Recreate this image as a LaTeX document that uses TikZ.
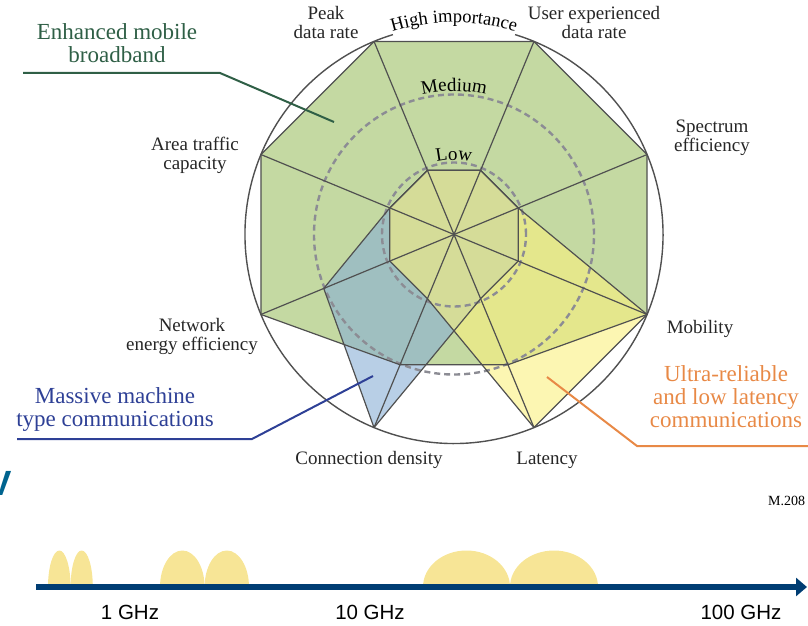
\documentclass[tikz,border=0pt]{standalone}
\usepackage{fontspec}
\setmainfont{Liberation Serif}
\setsansfont{Liberation Sans}
\usetikzlibrary{arrows.meta,calc,decorations.text}
\definecolor{EmbbGreen}{HTML}{9CC064}
\definecolor{MmtcBlue}{HTML}{88AFD5}
\definecolor{UrllcYellow}{HTML}{FAF07E}
\definecolor{EmbbText}{HTML}{2F5F46}
\definecolor{MmtcText}{HTML}{2E4096}
\definecolor{UrllcText}{HTML}{E88946}
\definecolor{AxisBlue}{HTML}{003D73}
\definecolor{BandYellow}{HTML}{F7E596}
\definecolor{RingGray}{HTML}{8C8C94}
\definecolor{LineGray}{HTML}{505050}

\begin{document}
\begin{tikzpicture}[x=1pt, y=1pt,
    spoke/.style={draw=LineGray, line width=1.2pt, line join=round},
    ring/.style={draw=LineGray, line width=1.4pt},
    lvlring/.style={draw=RingGray, line width=2.4pt, dash pattern=on 6pt off 4pt},
    axislabel/.style={font=\fontsize{19}{19}\selectfont, align=center, text=black!85, inner sep=0pt},
    callout/.style={font=\fontsize{23}{23}\selectfont, align=center, inner sep=0pt},
    freq/.style={font=\sffamily\fontsize{20.5}{20.5}\selectfont, inner sep=0pt},
    hump/.style={fill=BandYellow}]
    \useasboundingbox (0,0) rectangle (808,625);
    \def\rH{209} \def\rM{141} \def\rL{69.5}

    % Radar centre and the three levels on each axis
    \coordinate (c) at (454,390.5);
    \foreach \ax/\ang in {peak/112.5, user/67.5, spec/22.5, mob/-22.5, lat/-67.5, conn/-112.5, energy/-157.5, area/157.5}{
        \coordinate (\ax-H) at ($(c)+(\ang:\rH)$);
        \coordinate (\ax-M) at ($(c)+(\ang:\rM)$);
        \coordinate (\ax-L) at ($(c)+(\ang:\rL)$);
    }

    % Usage scenarios
    \fill[EmbbGreen, fill opacity=0.6] (peak-H) -- (user-H) -- (spec-H) -- (mob-H) -- (lat-M) -- (conn-M) -- (energy-H) -- (area-H) -- cycle;
    \fill[MmtcBlue, fill opacity=0.6] (peak-L) -- (user-L) -- (spec-L) -- (mob-L) -- (lat-L) -- (conn-H) -- (energy-M) -- (area-L) -- cycle;
    \fill[UrllcYellow, fill opacity=0.6] (peak-L) -- (user-L) -- (spec-L) -- (mob-H) -- (lat-H) -- (conn-L) -- (energy-L) -- (area-L) -- cycle;

    % Importance levels
    \draw[lvlring] (c) circle[radius=140];
    \draw[lvlring] (c) circle[radius=72];
    \draw[ring] ($(c)+(107:\rH)$) arc[start angle=107, end angle=433, radius=\rH];

    % Outlines and spokes
    \draw[spoke] (peak-H) -- (user-H) -- (spec-H) -- (mob-H) -- (lat-M) -- (conn-M) -- (energy-H) -- (area-H) -- cycle;
    \draw[spoke] (peak-L) -- (user-L) -- (spec-L) -- (mob-L) -- (lat-L) -- (conn-H) -- (energy-M) -- (area-L) -- cycle;
    \draw[spoke] (peak-L) -- (user-L) -- (spec-L) -- (mob-H) -- (lat-H) -- (conn-L) -- (energy-L) -- (area-L) -- cycle;
    \foreach \ax in {peak,user,spec,mob,lat,conn,energy,area}
        \draw[spoke] (c) -- (\ax-H);

    % Level names
    \path[decorate, decoration={text along path, text align=center,
        text={|\fontsize{18.5}{18.5}\selectfont|High importance}}]
        ($(c)+(130:212)$) arc[start angle=130, end angle=50, radius=212];
    \path[decorate, decoration={text along path, text align=center,
        text={|\fontsize{19}{19}\selectfont|Medium}}]
        ($(c)+(120:143.5)$) arc[start angle=120, end angle=60, radius=143.5];
    \path[decorate, decoration={text along path, text align=center,
        text={|\fontsize{19}{19}\selectfont|Low}}]
        ($(c)+(140:74.5)$) arc[start angle=140, end angle=40, radius=74.5];

    % Axis names
    \node[axislabel] (peak) at (326,602) {Peak\\data rate};
    \node[axislabel] (user) at (594,602) {User experienced\\data rate};
    \node[axislabel] (spec) at (712,487) {Spectrum\\efficiency};
    \node[axislabel] (area) at (195,470) {Area traffic\\capacity};
    \node[axislabel] (energy) at (192,289) {Network\\energy efficiency};
    \node[axislabel] (mob) at (700,296) {Mobility};
    \node[axislabel] (conn) at (369,165) {Connection density};
    \node[axislabel] (lat) at (547,165) {Latency};

    % Scenario callouts
    \node[callout, text=EmbbText] (embb) at (117,582) {Enhanced mobile\\broadband};
    \coordinate (embb-a) at (23,552);
    \coordinate (embb-b) at (220,552);
    \coordinate (embb-tip) at (334,503);
    \draw[EmbbText, line width=2pt] (embb-a) -- (embb-b) -- (embb-tip);

    \node[callout, text=MmtcText] (mmtc) at (115,216) {Massive machine\\type communications};
    \coordinate (mmtc-a) at (17,186);
    \coordinate (mmtc-b) at (252,186);
    \coordinate (mmtc-tip) at (373,249);
    \draw[MmtcText, line width=2pt] (mmtc-a) -- (mmtc-b) -- (mmtc-tip);

    \node[callout, text=UrllcText] (urllc) at (726,228.5) {Ultra-reliable\\and low latency\\communications};
    \coordinate (urllc-tip) at (547,248);
    \coordinate (urllc-b) at (637,179);
    \coordinate (urllc-a) at (808,179);
    \draw[UrllcText, line width=2pt] (urllc-tip) -- (urllc-b) -- (urllc-a);

    \node[anchor=base west, inner sep=0pt, font=\fontsize{14}{14}\selectfont] (figref) at (768,120) {M.208};
    \node[anchor=base west, inner sep=0pt, font=\sffamily\bfseries\fontsize{35}{35}\selectfont, text=AxisBlue!80!cyan] (cutv) at (-12,130) {V};

    % Spectrum bands
    \foreach \xa/\xb in {48/70.6, 70.6/92.8, 160/204.6, 204.6/249, 423/510, 510/598}
        \fill[hump] (\xa,38) arc[start angle=180, end angle=0, x radius={(\xb-\xa)/2}, y radius=36.5] -- cycle;
    \coordinate (fstart) at (36,38);
    \coordinate (fend) at (807,38);
    \draw[AxisBlue, line width=6pt, -{Triangle[length=11pt, width=18pt]}] (fstart) -- (fend);
    \node[freq] (f1) at (130,12.5) {1 GHz};
    \node[freq] (f10) at (370,12.5) {10 GHz};
    \node[freq] (f100) at (741,12.5) {100 GHz};
\end{tikzpicture}
\end{document}
